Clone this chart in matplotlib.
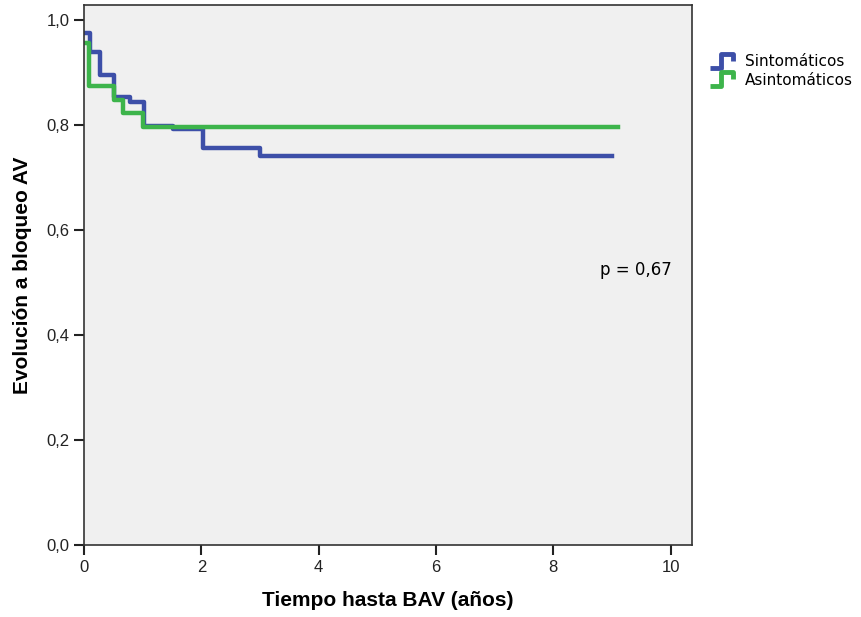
import numpy as np
import matplotlib.pyplot as plt
from matplotlib.path import Path
from matplotlib.lines import Line2D

plt.rcParams['font.family'] = ['Liberation Sans Narrow', 'Liberation Sans', 'DejaVu Sans']

# Kaplan-Meier: tiempos de cambio y supervivencia
t_sint = [0.04, 0.10, 0.27, 0.51, 0.79, 1.03, 1.52, 2.02, 3.00, 9.00]
s_sint = [0.975, 0.939, 0.895, 0.853, 0.844, 0.798, 0.792, 0.756, 0.741, 0.741]
t_asint = [0.03, 0.09, 0.51, 0.67, 1.00, 9.10]
s_asint = [0.956, 0.874, 0.848, 0.823, 0.796, 0.796]

c_sint = '#3d4fa8'
c_asint = '#3db44b'

fig = plt.figure(figsize=(8.61, 6.17), dpi=100)
ax = fig.add_axes([0.0976, 0.1167, 0.8034 - 0.0976, 0.992 - 0.1167])
ax.set_facecolor('#f0f0f0')

ax.step(t_sint, s_sint, where='post', color=c_sint, lw=3.2)
ax.step(t_asint, s_asint, where='post', color=c_asint, lw=3.2)

ax.set_xlim(0, 10.36)
ax.set_ylim(0, 1.029)
ax.set_xticks([0, 2, 4, 6, 8, 10])
ax.set_yticks([0, 0.2, 0.4, 0.6, 0.8, 1.0])
ax.set_yticklabels(['0,0', '0,2', '0,4', '0,6', '0,8', '1,0'])
ax.tick_params(labelsize=12, length=7, width=1.5, colors='#222222')
for s in ax.spines.values():
    s.set_color('#333333')
    s.set_linewidth(1.2)

ax.set_xlabel('Tiempo hasta BAV (años)', fontsize=15, fontweight='bold',
              family=['Liberation Sans', 'DejaVu Sans'], labelpad=12)
ax.set_ylabel('Evolución a bloqueo AV', fontsize=15, fontweight='bold',
              family=['Liberation Sans', 'DejaVu Sans'], labelpad=10)

ax.text(9.4, 0.524, 'p = 0,67', fontsize=12, family=['DejaVu Sans'], ha='center', va='center')

# leyenda con símbolo escalonado
step_mark = Path([(-1, -0.5), (-0.15, -0.5), (-0.15, 0.55), (0.75, 0.55), (0.75, 0.0)],
                 [Path.MOVETO, Path.LINETO, Path.LINETO, Path.LINETO, Path.LINETO])
handles = [Line2D([], [], ls='none', marker=step_mark, markersize=19, mfc='none',
                  mec=c, mew=3.5) for c in (c_sint, c_asint)]
fig.legend(handles, ['Sintomáticos', 'Asintomáticos'], loc='upper left',
           bbox_to_anchor=(0.808, 0.935), frameon=False,
           handlelength=1.8, handletextpad=0.5, labelspacing=0.25,
           prop={'family': ['DejaVu Sans'], 'size': 11})

fig.savefig('out.png', dpi=100)
